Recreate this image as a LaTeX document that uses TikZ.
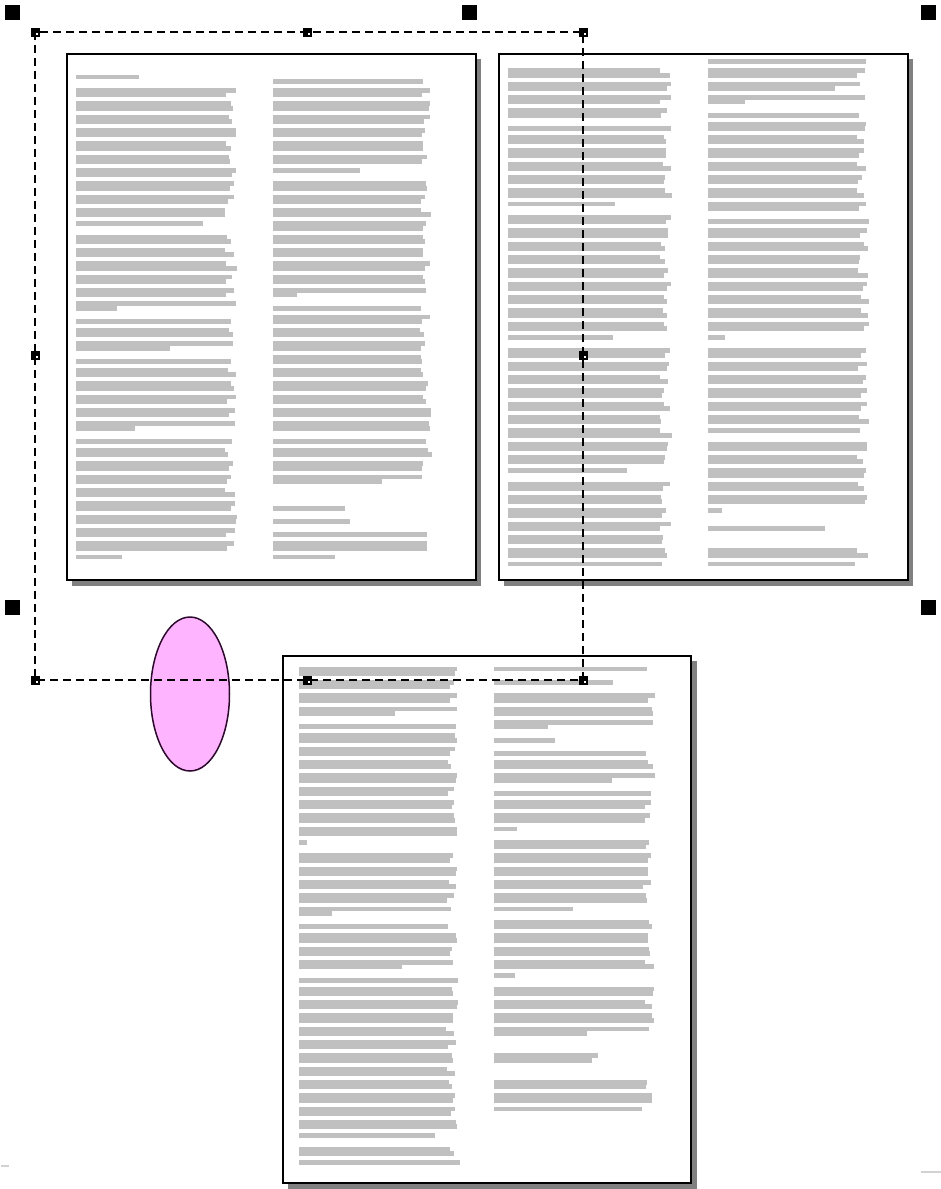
\documentclass[tikz,border=0pt]{standalone}
\usetikzlibrary{shapes.geometric}
\definecolor{greekgray}{RGB}{192,192,192}
\definecolor{shadowgray}{RGB}{128,128,128}
\definecolor{ellpink}{RGB}{255,180,255}
\definecolor{ellline}{RGB}{45,10,45}
\tikzset{
  greek/.style={fill=greekgray},
  pageframe/.style={draw=black, line width=2pt, fill=white, inner sep=0pt, anchor=north west},
  pageshadow/.style={fill=shadowgray},
  selbox/.style={draw=black, line width=2.4pt, dash pattern=on 8pt off 5pt},
  bighandle/.style={fill=black, minimum size=15pt, inner sep=0pt},
  smallhandle/.style={fill=black, minimum size=9pt, inner sep=0pt},
  blob/.style={ellipse, draw=ellline, line width=1.5pt, fill=ellpink, minimum width=79pt, minimum height=154pt, inner sep=0pt},
  faint/.style={draw=gray!35, line width=1.5pt}
}
% #1 x0, #2 y0 (top of first slot), #3 column width, #4 list of line widths (-1 full, 0 blank)
\newcommand\greekcol[4]{%
  \foreach \w [count=\n from 0] in {#4}{%
    \pgfmathsetmacro\yy{#2+13.333*floor(\n/2)+4.4*mod(\n,2)}%
    \ifdim\w pt<0pt
      \pgfmathsetmacro\ww{#3+6*rand}%
      \fill[greek] (#1,\yy) rectangle ++(\ww,4.8);%
    \else\ifdim\w pt>0pt
      \fill[greek] (#1,\yy) rectangle ++(\w,4.8);%
    \fi\fi
  }%
}
\begin{document}
\begin{tikzpicture}[x=1pt,y=-1pt]
\pgfmathsetseed{4711}
\useasboundingbox (0,0) rectangle (941,1189);
\fill[white] (0,0) rectangle (941,1189);

% ---------- page 1 ----------
\fill[pageshadow] (72,59) rectangle (481,586);
\node[pageframe, minimum width=409pt, minimum height=526pt] (page1) at (66,53) {};
\greekcol{76}{74.667}{155}{63,0,
-1,-1,-1,-1,-1,-1,-1,-1,-1,-1,-1,-1,-1,-1,-1,-1,-1,-1,-1,-1,127,0,
-1,-1,-1,-1,-1,-1,-1,-1,-1,-1,-1,41,0,
-1,-1,-1,-1,94,0,
-1,-1,-1,-1,-1,-1,-1,-1,-1,-1,59,0,
-1,-1,-1,-1,-1,-1,-1,-1,-1,-1,-1,-1,-1,-1,-1,-1,-1,46}
\greekcol{273}{74.667}{153}{0,
-1,-1,-1,-1,-1,-1,-1,-1,-1,-1,-1,-1,-1,87,0,
-1,-1,-1,-1,-1,-1,-1,-1,-1,-1,-1,-1,-1,-1,-1,-1,-1,24,0,
-1,-1,-1,-1,-1,-1,-1,-1,-1,-1,-1,-1,-1,-1,-1,-1,-1,-1,-1,0,
-1,-1,-1,-1,-1,-1,109,0,0,0,72,0,77,0,
-1,-1,-1,62}

% ---------- page 2 ----------
\fill[pageshadow] (504,59) rectangle (913,586);
\node[pageframe, minimum width=409pt, minimum height=526pt] (page2) at (498,53) {};
\greekcol{508}{68.333}{158}{-1,-1,-1,-1,-1,-1,-1,-1,0,
-1,-1,-1,-1,-1,-1,-1,-1,-1,-1,-1,107,0,
-1,-1,-1,-1,-1,-1,-1,-1,-1,-1,-1,-1,-1,-1,-1,-1,-1,-1,105,0,
-1,-1,-1,-1,-1,-1,-1,-1,-1,-1,-1,-1,-1,-1,-1,-1,-1,-1,119,0,
-1,-1,-1,-1,-1,-1,-1,-1,-1,-1,-1,-1,-1}
\greekcol{708}{55}{155}{0,-1,-1,-1,-1,127,-1,37,0,
-1,-1,-1,-1,-1,-1,-1,-1,-1,-1,-1,-1,-1,-1,-1,0,
-1,-1,-1,-1,-1,-1,-1,-1,-1,-1,-1,-1,-1,-1,-1,-1,-1,17,0,
-1,-1,-1,-1,-1,-1,-1,-1,-1,-1,-1,-1,-1,0,
-1,-1,-1,-1,-1,-1,-1,-1,-1,-1,14,0,0,117,0,0,-1,-1,147}

% ---------- page 3 ----------
\fill[pageshadow] (288,661) rectangle (697,1189);
\node[pageframe, minimum width=408pt, minimum height=527pt] (page3) at (282,655) {};
\greekcol{299}{666.667}{153}{-1,-1,-1,-1,-1,-1,-1,96,0,
-1,-1,-1,-1,-1,-1,-1,-1,-1,-1,-1,-1,-1,-1,-1,-1,-1,8,0,
-1,-1,-1,-1,-1,-1,-1,-1,-1,33,0,
-1,-1,-1,-1,-1,-1,103,0,
-1,-1,-1,-1,-1,-1,-1,-1,-1,-1,-1,-1,-1,-1,-1,-1,-1,-1,-1,-1,-1,-1,-1,136,0,
-1,-1,161}
\greekcol{494}{666.667}{155}{153,0,119,0,
-1,-1,-1,-1,-1,54,0,61,0,
-1,-1,-1,-1,118,0,
-1,-1,-1,-1,-1,23,0,
-1,-1,-1,-1,-1,-1,-1,-1,-1,-1,79,0,
-1,-1,-1,-1,-1,-1,-1,-1,21,0,
-1,-1,-1,-1,-1,-1,-1,93,0,0,104,98,0,0,
-1,-1,-1,-1,148}

% ---------- pink ellipse ----------
\node[blob] (oval) at (190,694) {};

% ---------- selection rectangle ----------
\coordinate (selNW) at (35,32);
\coordinate (selSE) at (583,680);
\draw[selbox] (selNW) rectangle (selSE);
\foreach \hx/\hy [count=\i] in {35/32,307/32,583/32,35/355,583/355,35/680,307/680,583/680}{
  \node[smallhandle] (sh\i) at (\hx,\hy) {};
  \fill[white] (\hx+0.6,\hy+0.6) rectangle ++(2.4,2.4);
}

% ---------- big handles ----------
\node[bighandle] (bh1) at (12,12) {};
\node[bighandle] (bh2) at (469,12) {};
\node[bighandle] (bh3) at (928,12) {};
\node[bighandle] (bh4) at (12,607) {};
\node[bighandle] (bh5) at (928,607) {};

% faint marks at the bottom corners
\draw[faint] (1,1166) -- (9,1166);
\draw[faint] (921,1172) -- (941,1172);
\end{tikzpicture}
\end{document}
